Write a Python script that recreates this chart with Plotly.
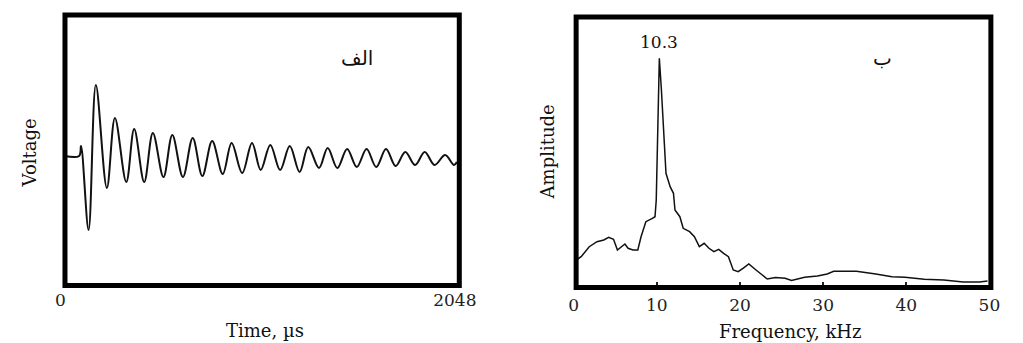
import plotly.graph_objects as go

# ---- data: left panel (time-domain waveform) ----
time_us = [0, 76, 86, 125, 163, 220, 262, 321, 362, 414, 459, 514, 560, 615, 666, 716,
           767, 822, 868, 923, 974, 1019, 1069, 1120, 1170, 1221, 1266, 1322, 1367, 1417,
           1468, 1518, 1569, 1619, 1670, 1720, 1770, 1821, 1871, 1922, 1977, 2023, 2038]
voltage = [0, 0, 10, -74, 71, -32, 38, -26, 27, -26, 23, -21, 21, -21, 18, -20,
           15, -18, 13, -17, 13, -14, 11, -14, 10, -16, 9, -12, 8, -12,
           7, -11, 7, -11, 7, -10, 4, -9, 4, -9, 1, -9, -6]
time_ticks = [0, 2048]
time_ticktext = ["0", "2048"]

# ---- data: right panel (frequency spectrum) ----
freq_khz = [0.3, 0.9, 1.87, 2.8, 3.62, 4.21, 4.79, 5.26, 6.16, 6.54, 7.13, 7.71, 8.1, 8.68,
            9.46, 9.78, 9.93, 10.08, 10.3, 10.55, 10.83, 11.1, 11.6, 12.0, 12.18, 12.77,
            13.17, 13.94, 14.52, 15.11, 15.69, 16.27, 16.86, 17.44, 18.03, 18.61, 19.19,
            19.78, 20.36, 21.06, 21.93, 22.7, 23.28, 24.26, 25.43, 26.2, 27.77, 29.32,
            30.49, 31.27, 34.0, 36.33, 38.28, 39.84, 42.17, 44.51, 46.85, 48.8, 49.77]
amplitude = [25, 28.3, 38.3, 43.3, 45, 47.7, 45.7, 35, 41, 36.7, 35, 35, 48.3, 63.3,
             66.7, 68.3, 85, 145, 226.7, 195, 145, 111.7, 98.3, 91.7, 75, 68.3,
             56.7, 53.3, 48.3, 38.3, 41.7, 36.7, 33.3, 35.7, 31.7, 28.3, 15,
             13.3, 16.7, 21, 15, 10, 6, 7.5, 6.7, 4.5, 7.7, 9,
             11, 13.7, 13.7, 11, 8.3, 7.7, 5.7, 5, 3, 3, 4]
freq_ticks = [0, 10, 20, 30, 40, 50]
peak_label = "10.3"

W, H = 1023, 343
def px(x):
    return x / W
def py(y):
    return 1 - y / H

SERIF = "DejaVu Serif"

fig = go.Figure()
fig.add_trace(go.Scatter(x=time_us, y=voltage, mode="lines",
                         line=dict(color="#111", width=2, shape="spline", smoothing=1.0),
                         xaxis="x", yaxis="y", showlegend=False, hoverinfo="skip"))
fig.add_trace(go.Scatter(x=freq_khz, y=amplitude, mode="lines",
                         line=dict(color="#111", width=1.5),
                         xaxis="x2", yaxis="y2", showlegend=False, hoverinfo="skip"))

fig.update_layout(
    width=W, height=H,
    margin=dict(l=0, r=0, t=0, b=0),
    paper_bgcolor="white", plot_bgcolor="white",
    xaxis=dict(domain=[px(57), px(462)], range=[0, 2048], tickvals=time_ticks,
               ticktext=time_ticktext, showgrid=False, zeroline=False, showline=False,
               ticks="", tickfont=dict(family=SERIF, size=17, color="#222"),
               ticklabelshift=-4, ticklabelstandoff=2, anchor="y"),
    yaxis=dict(domain=[py(285.5), py(15)], range=[-129.5, 141], showticklabels=False,
               showgrid=False, zeroline=False, showline=False, ticks="", anchor="x"),
    xaxis2=dict(domain=[px(580), px(1007)], range=[0, 50], tickvals=freq_ticks,
                showgrid=False, zeroline=False, showline=False,
                ticks="inside", ticklen=6, tickwidth=1.5, tickcolor="#222",
                ticklabelstandoff=5,
                tickfont=dict(family=SERIF, size=17, color="#222"), anchor="y2"),
    yaxis2=dict(domain=[py(287.5), py(17)], range=[-2.5, 268], showticklabels=False,
                showgrid=False, zeroline=False, showline=False, ticks="", anchor="x2"),
)

# frames
fig.add_shape(type="rect", xref="paper", yref="paper",
              x0=px(57.5), x1=px(462.5), y0=py(285.5), y1=py(15),
              line=dict(color="black", width=5), layer="above")
fig.add_shape(type="rect", xref="paper", yref="paper",
              x0=px(582.5), x1=px(1008.5), y0=py(287.5), y1=py(17),
              line=dict(color="black", width=5), layer="above")

def ann(text, x, y, size, family=SERIF, angle=0):
    fig.add_annotation(text=text, xref="paper", yref="paper", x=px(x), y=py(y),
                       xanchor="center", yanchor="middle", showarrow=False,
                       textangle=angle, font=dict(family=family, size=size, color="#111"))

ann("Voltage", 22, 153, 18, angle=-90)
ann("Amplitude", 553, 152, 18, angle=-90)
ann("Time, µs", 263, 330, 18)
ann("Frequency, kHz", 803, 331, 18)
ann("الف", 357, 58, 20, family="DejaVu Sans")
ann("ب", 897, 58, 20, family="DejaVu Sans")
fig.add_annotation(text=peak_label, x=10.3, y=243, xref="x2", yref="y2",
                   xanchor="center", yanchor="middle", showarrow=False,
                   font=dict(family=SERIF, size=17, color="#111"))

fig.write_html("out.html")
